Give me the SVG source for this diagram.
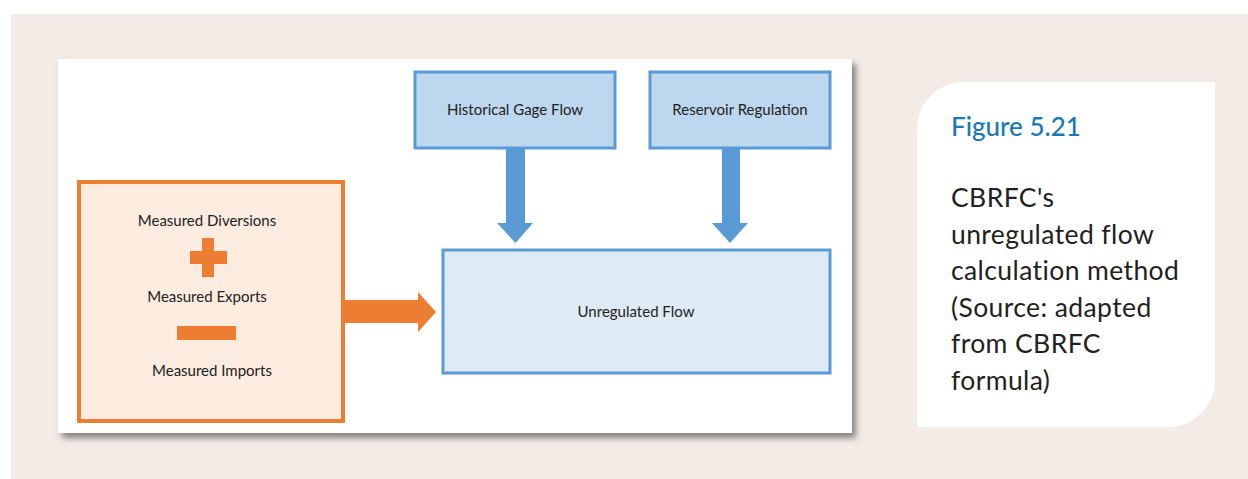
<svg xmlns="http://www.w3.org/2000/svg" width="1248" height="479" viewBox="0 0 1248 479">
  <defs>
    <filter id="shadow" x="-5%" y="-5%" width="115%" height="120%">
      <feDropShadow dx="4" dy="5" stdDeviation="3" flood-color="#555" flood-opacity="0.7"/>
    </filter>
  </defs>
  <style>
    .lbl { font-family: Lato, "Liberation Sans", sans-serif; font-size: 15px; fill: #222; text-anchor: middle; }
    .blue { fill: #bdd7ee; stroke: #5b9bd5; stroke-width: 3; }
    .lightblue { fill: #deebf7; stroke: #5b9bd5; stroke-width: 3; }
    .orange { fill: #fcebdf; stroke: #ed7d31; stroke-width: 4; }
    .barrow { fill: #5b9bd5; }
    .oarrow { fill: #ed7d31; }
    .cap { font-family: Lato, "Noto Sans", sans-serif; font-size: 26.5px; letter-spacing: 0.4px; fill: #231f20; }
    .captitle { font-family: Lato, "Noto Sans", sans-serif; font-size: 26px; font-weight: 500; fill: #1a78b8; }
  </style>
  <rect x="0" y="0" width="1248" height="479" fill="#ffffff"/>
  <rect x="11" y="14" width="1237" height="465" fill="#f3ebe5"/>
  <rect x="58" y="59" width="794" height="374" fill="#ffffff" filter="url(#shadow)"/>

  <g id="connectors">
    <polygon class="barrow" points="506,148 525,148 525,223 533,223 515.5,243 497,223 506,223"/>
    <polygon class="barrow" points="722,148 740,148 740,223 748,223 730,243 712,223 722,223"/>
    <polygon class="oarrow" points="343,300 418,300 418,292 436,312 418,332 418,323 343,323"/>
  </g>

  <g id="historical">
    <rect class="blue" x="415" y="72" width="200" height="76"/>
    <text class="lbl" x="515" y="115">Historical Gage Flow</text>
  </g>
  <g id="reservoir">
    <rect class="blue" x="650" y="72" width="180" height="76"/>
    <text class="lbl" x="740" y="115">Reservoir Regulation</text>
  </g>
  <g id="unregulated">
    <rect class="lightblue" x="443" y="250" width="387" height="123"/>
    <text class="lbl" x="636" y="317">Unregulated Flow</text>
  </g>
  <g id="measured">
    <rect class="orange" x="79" y="182" width="264" height="239"/>
    <text class="lbl" x="207" y="226">Measured Diversions</text>
    <rect class="oarrow" x="202" y="238" width="12" height="39"/>
    <rect class="oarrow" x="190" y="251" width="37" height="13"/>
    <text class="lbl" x="207" y="302">Measured Exports</text>
    <rect class="oarrow" x="177" y="326" width="59" height="14"/>
    <text class="lbl" x="212" y="376">Measured Imports</text>
  </g>

  <g id="caption">
    <path d="M964,82 H1215 V380 A47,47 0 0 1 1168,427 H917 V129 A47,47 0 0 1 964,82 Z" fill="#ffffff"/>
    <text class="captitle" x="951" y="136">Figure 5.21</text>
    <text class="cap" x="951" y="207">CBRFC's</text>
    <text class="cap" x="951" y="243.5">unregulated flow</text>
    <text class="cap" x="951" y="280">calculation method</text>
    <text class="cap" x="951" y="316.5">(Source: adapted</text>
    <text class="cap" x="951" y="353">from CBRFC</text>
    <text class="cap" x="951" y="389.5">formula)</text>
  </g>
</svg>
